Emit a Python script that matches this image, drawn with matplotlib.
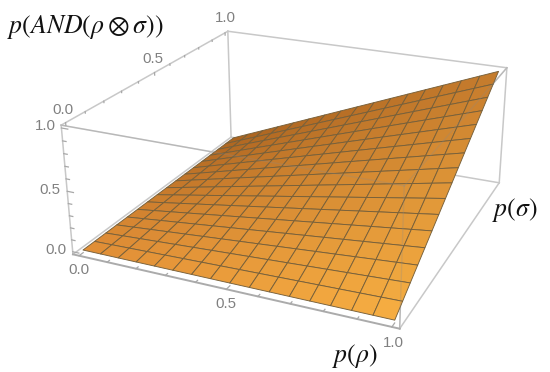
import numpy as np
import matplotlib
matplotlib.use("Agg")
import matplotlib.pyplot as plt

plt.rcParams['font.family'] = ['Liberation Sans', 'DejaVu Sans']
plt.rcParams['mathtext.fontset'] = 'stix'

W, H = 550, 372

# data
p_rho = [i / 16 for i in range(17)]
p_sigma = [i / 16 for i in range(17)]
# p(AND), in 1/256ths
p_and_256 = [
    [0, 0, 0, 0, 0, 0, 0, 0, 0, 0, 0, 0, 0, 0, 0, 0, 0],
    [0, 1, 2, 3, 4, 5, 6, 7, 8, 9, 10, 11, 12, 13, 14, 15, 16],
    [0, 2, 4, 6, 8, 10, 12, 14, 16, 18, 20, 22, 24, 26, 28, 30, 32],
    [0, 3, 6, 9, 12, 15, 18, 21, 24, 27, 30, 33, 36, 39, 42, 45, 48],
    [0, 4, 8, 12, 16, 20, 24, 28, 32, 36, 40, 44, 48, 52, 56, 60, 64],
    [0, 5, 10, 15, 20, 25, 30, 35, 40, 45, 50, 55, 60, 65, 70, 75, 80],
    [0, 6, 12, 18, 24, 30, 36, 42, 48, 54, 60, 66, 72, 78, 84, 90, 96],
    [0, 7, 14, 21, 28, 35, 42, 49, 56, 63, 70, 77, 84, 91, 98, 105, 112],
    [0, 8, 16, 24, 32, 40, 48, 56, 64, 72, 80, 88, 96, 104, 112, 120, 128],
    [0, 9, 18, 27, 36, 45, 54, 63, 72, 81, 90, 99, 108, 117, 126, 135, 144],
    [0, 10, 20, 30, 40, 50, 60, 70, 80, 90, 100, 110, 120, 130, 140, 150, 160],
    [0, 11, 22, 33, 44, 55, 66, 77, 88, 99, 110, 121, 132, 143, 154, 165, 176],
    [0, 12, 24, 36, 48, 60, 72, 84, 96, 108, 120, 132, 144, 156, 168, 180, 192],
    [0, 13, 26, 39, 52, 65, 78, 91, 104, 117, 130, 143, 156, 169, 182, 195, 208],
    [0, 14, 28, 42, 56, 70, 84, 98, 112, 126, 140, 154, 168, 182, 196, 210, 224],
    [0, 15, 30, 45, 60, 75, 90, 105, 120, 135, 150, 165, 180, 195, 210, 225, 240],
    [0, 16, 32, 48, 64, 80, 96, 112, 128, 144, 160, 176, 192, 208, 224, 240, 256],
]
tick_values = [i / 10 for i in range(11)]
lo, hi = -0.022, 1.022

# camera: where the corners of the box sit in the picture (x, y, z in lo/hi)
camera_corners = [
    ((lo, lo, lo), (73, 254)), ((hi, lo, lo), (400, 329)),
    ((hi, hi, lo), (499, 183)), ((lo, hi, lo), (231, 137)),
    ((lo, lo, hi), (61, 126)), ((hi, lo, hi), (404, 185)),
    ((hi, hi, hi), (507, 68)), ((lo, hi, hi), (228, 31)),
]

fig = plt.figure(figsize=(W / 100, H / 100), dpi=100)
# 3d axes are always square, so make it as wide as the figure to avoid clipping
ax = fig.add_axes([0, -(W - H) / 2 / H, 1, W / H], projection='3d')
ax.apply_aspect()
ax.set_axis_off()
ax.computed_zorder = False


def make_proj():
    rows = []
    for (x, y, z), (px, py) in camera_corners:
        u, v = ax.transData.inverted().transform((px, H - py))
        rows.append([x, y, z, 1, 0, 0, 0, 0, -u * x, -u * y, -u * z, -u])
        rows.append([0, 0, 0, 0, x, y, z, 1, -v * x, -v * y, -v * z, -v])
    sol = np.linalg.svd(np.array(rows))[2][-1]
    sol = sol / sol[11]
    # third row is only a depth for sorting, has to stay negative or lines get clipped
    return np.array([sol[:4], sol[4:8], [-0.1, 0.1, -0.1, -0.5], sol[8:12]])


proj = make_proj()
ax.get_proj = lambda: proj

# surface
X, Y = np.meshgrid(p_rho, p_sigma, indexing='ij')
Z = np.array(p_and_256) / 256
c00 = np.array(matplotlib.colors.to_rgba('#e08e36'))
c10 = np.array(matplotlib.colors.to_rgba('#f6ae42'))
c01 = np.array(matplotlib.colors.to_rgba('#a9621f'))
c11 = np.array(matplotlib.colors.to_rgba('#c47a2c'))
fx = X[..., None]
fy = Y[..., None]
shades = c00 * (1 - fx) * (1 - fy) + c10 * fx * (1 - fy) + c01 * (1 - fx) * fy + c11 * fx * fy

edge = '#c8c8c8'
box = [
    ((lo, lo, lo), (lo, lo, hi)), ((lo, lo, hi), (lo, hi, hi)), ((lo, hi, hi), (hi, hi, hi)),
    ((hi, hi, hi), (hi, hi, lo)), ((hi, hi, lo), (hi, lo, lo)), ((lo, lo, hi), (hi, lo, hi)),
    ((hi, lo, hi), (hi, hi, hi)), ((hi, lo, hi), (hi, lo, lo)), ((lo, hi, hi), (lo, hi, lo)),
    ((lo, hi, lo), (hi, hi, lo)), ((lo, lo, lo), (lo, hi, lo)),
]
for a, b in box:
    ax.plot(*zip(a, b), color=edge, lw=1.1, zorder=1)

ax.plot_surface(X, Y, Z, rstride=1, cstride=1, facecolors=shades, shade=False,
                edgecolor='#77603a', linewidth=0.65, zorder=2)

# box edges showing faintly through the surface
for a, b in [((lo, lo, hi), (hi, lo, hi)), ((hi, lo, hi), (hi, hi, hi)), ((hi, lo, hi), (hi, lo, lo))]:
    ax.plot(*zip(a, b), color='#8a8a8a', lw=1.0, alpha=0.25, zorder=3)

# front edge, darker
ax.plot((lo, hi), (lo, lo), (lo, lo), color='#ababab', lw=1.4, zorder=4)

# ticks
for i, t in enumerate(tick_values):
    size = 0.022 if i % 5 == 0 else 0.012
    ax.plot((t, t), (lo, lo + size), (lo, lo), color='#a8a8a8', lw=0.9, zorder=4)
    ax.plot((lo, lo), (t, t), (hi, hi - size), color='#a8a8a8', lw=0.9, zorder=4)
    ax.plot((lo, lo + size), (lo, lo), (t, t), color='#a8a8a8', lw=0.9, zorder=4)


def put(px, py, s, **kw):
    fig.text(px / W, 1 - py / H, s, ha='center', va='center', **kw)


# tick labels
for px, py, s in [(79, 270, '0.0'), (226, 304, '0.5'), (393, 343, '1.0'),
                  (63, 110, '0.0'), (153, 59, '0.5'), (225, 18, '1.0'),
                  (45, 126, '1.0'), (50, 190, '0.5'), (56, 250, '0.0')]:
    put(px, py, s, fontsize=10.8, color='#808080')

# axis titles
put(85, 27, r'$p(AND(\rho\otimes\sigma))$', fontsize=18.5, color='#111111')
put(515, 210, r'$p(\sigma)$', fontsize=18.5, color='#111111')
put(355, 356, r'$p(\rho)$', fontsize=18.5, color='#111111')

fig.savefig('out.png', dpi=100)
